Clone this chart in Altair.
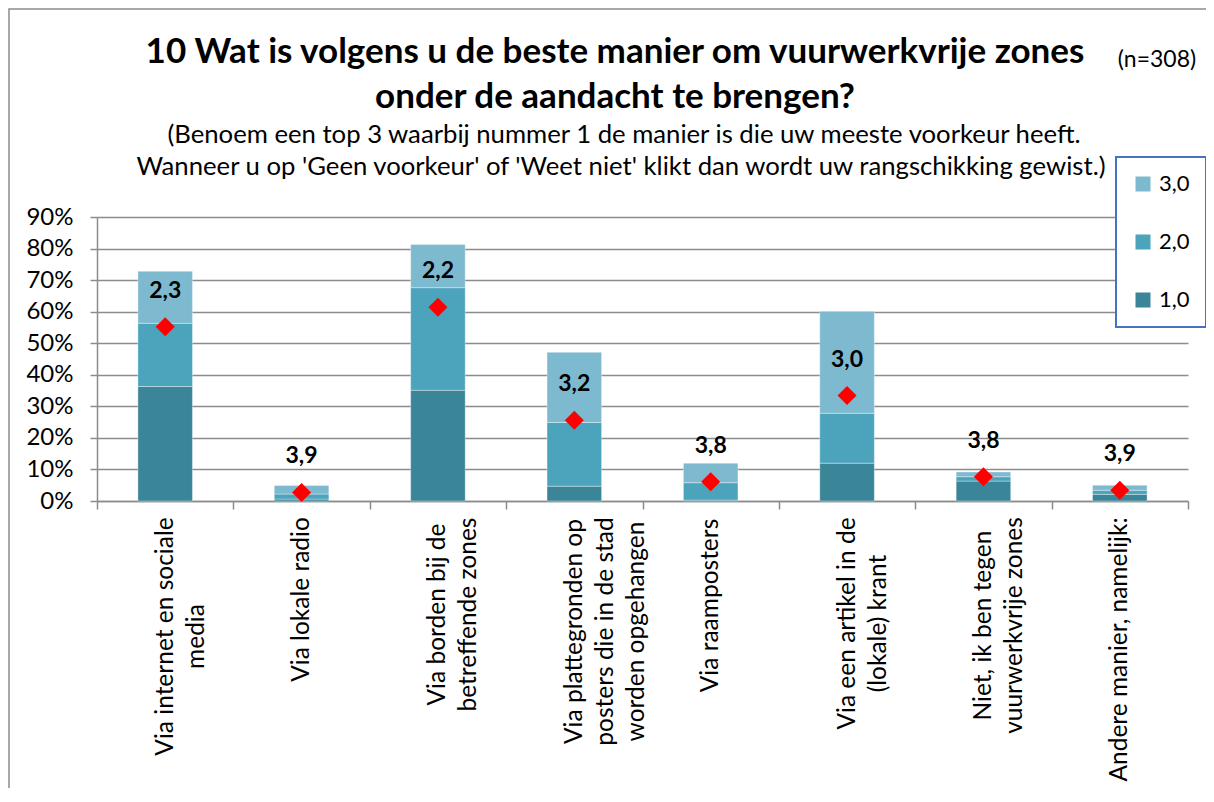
import altair as alt
import pandas as pd

# ---- data ----
categories = [
    "Via internet en sociale media",
    "Via lokale radio",
    "Via borden bij de betreffende zones",
    "Via plattegronden op posters die in de stad worden opgehangen",
    "Via raamposters",
    "Via een artikel in de (lokale) krant",
    "Niet, ik ben tegen vuurwerkvrije zones",
    "Andere manier, namelijk:",
]
rank1 = [36.3, 0.6, 35.1, 4.7, 0.3, 12.0, 6.3, 2.1]
rank2 = [20.0, 1.6, 32.5, 20.2, 5.5, 15.8, 1.4, 1.3]
rank3 = [16.5, 2.7, 13.7, 22.2, 6.2, 32.3, 1.5, 1.6]
average_pos = [55.2, 2.7, 61.4, 25.6, 6.1, 33.4, 7.7, 3.4]
average_lbl = ["2,3", "3,9", "2,2", "3,2", "3,8", "3,0", "3,8", "3,9"]
series = ["1,0", "2,0", "3,0"]
y_ticks = [0, 10, 20, 30, 40, 50, 60, 70, 80, 90]

title_lines = ["10 Wat is volgens u de beste manier om vuurwerkvrije zones", "onder de aandacht te brengen?"]
subtitle_lines = [
    "(Benoem een top 3 waarbij nummer 1 de manier is die uw meeste voorkeur heeft.",
    "Wanneer u op 'Geen voorkeur' of 'Weet niet' klikt dan wordt uw rangschikking gewist.)",
]
n_text = "(n=308)"

# ---- label wrapping (style) ----
label_lines = [
    ["Via internet en sociale", "media"],
    ["Via lokale radio"],
    ["Via borden bij de", "betreffende zones"],
    ["Via plattegronden op", "posters die in de stad", "worden opgehangen"],
    ["Via raamposters"],
    ["Via een artikel in de", "(lokale) krant"],
    ["Niet, ik ben tegen", "vuurwerkvrije zones"],
    ["Andere manier, namelijk:"],
]
label_len = [236, 162, 192, 226, 174, 210, 214, 262]

FONT = "Lato"
GRID = "#8C8C8C"

rows = []
for i, c in enumerate(categories):
    for s, vals in zip(series, [rank1, rank2, rank3]):
        rows.append({"cat": c, "rank": s, "order": series.index(s), "pct": vals[i] / 100})
df_bars = pd.DataFrame(rows)
df_avg = pd.DataFrame({"cat": categories, "pos": [v / 100 for v in average_pos], "lbl": average_lbl})

expr = "datum.value"
for c, lines in reversed(list(zip(categories, label_lines))):
    arr = "[" + ",".join("'" + l + "'" for l in lines) + "]"
    expr = f"datum.value == '{c}' ? {arr} : ({expr})"

pad_cond = {
    "condition": [{"test": f"datum.value == '{c}'", "value": 9 + L / 2} for c, L in zip(categories, label_len)],
    "value": 9,
}

x_axis = alt.Axis(
    title=None,
    labelAngle=270,
    labelAlign="center",
    labelBaseline="middle",
    labelFont=FONT,
    labelFontSize=24.5,
    labelLineHeight=31,
    labelColor="black",
    labelLimit=500,
    labelOverlap=False,
    labelExpr=expr,
    labelPadding=pad_cond,
    tickBand="extent",
    tickSize=8,
    tickColor=GRID,
    tickWidth=1.5,
    domainColor=GRID,
    domainWidth=1.5,
    grid=False,
)
y_axis = alt.Axis(
    title=None,
    values=[v / 100 for v in y_ticks],
    format=".0%",
    labelFont=FONT,
    labelFontSize=24,
    labelColor="black",
    labelPadding=17,
    labelFlush=False,
    labelOverlap=False,
    tickSize=7,
    tickColor=GRID,
    tickWidth=1.5,
    domainColor=GRID,
    domainWidth=1.5,
    grid=True,
    gridColor=GRID,
    gridWidth=1.5,
)

x_scale = alt.Scale(paddingInner=0, paddingOuter=0)
y_scale = alt.Scale(domain=[0, 0.9], nice=False)
X = alt.X("cat:N", sort=categories, scale=x_scale, axis=x_axis)

bars = alt.Chart(df_bars).mark_bar(
    width={"band": 0.4}, stroke="white", strokeOpacity=0.35, strokeWidth=1
).encode(
    x=X,
    y=alt.Y("pct:Q", stack="zero", scale=y_scale, axis=y_axis),
    color=alt.Color(
        "rank:N",
        scale=alt.Scale(domain=["3,0", "2,0", "1,0"], range=["#7EBACF", "#4BA3BC", "#3B8599"]),
        legend=alt.Legend(
            title=None,
            orient="none",
            legendX=1019,
            legendY=-60,
            direction="vertical",
            fillColor="white",
            strokeColor="#4472C4",
            padding=16,
            rowPadding=36,
            symbolType="square",
            symbolSize=225,
            symbolStrokeWidth=0,
            symbolOpacity=1,
            labelFont=FONT,
            labelFontSize=22,
            labelColor="black",
            labelOffset=5,
        ),
    ),
    order=alt.Order("order:Q", sort="ascending"),
)

diamonds = alt.Chart(df_avg).mark_point(
    shape="diamond", filled=True, color="#FF0000", size=360, opacity=1
).encode(x=X, y=alt.Y("pos:Q", scale=y_scale, axis=y_axis))

texts = alt.Chart(df_avg).mark_text(
    font=FONT, fontSize=23, fontWeight="bold", color="black", dy=-36, baseline="middle"
).encode(x=X, y=alt.Y("pos:Q", scale=y_scale, axis=y_axis), text="lbl:N")


def label(text, x, y, size, weight="normal"):
    return alt.Chart(pd.DataFrame({"t": [text]})).mark_text(
        font=FONT, fontSize=size, fontWeight=weight, color="black", align="center", baseline="middle"
    ).encode(x=alt.value(x), y=alt.value(y), text="t:N")


# positions relative to the plot area's top-left corner
notes = [
    label(title_lines[0], 518, -165, 35, "bold"),
    label(title_lines[1], 518, -120, 35, "bold"),
    label(subtitle_lines[0], 527, -82, 25.7),
    label(subtitle_lines[1], 524, -50, 25.7),
    label(n_text, 1060, -157, 23),
]

frame = alt.Chart(pd.DataFrame({"t": [0]})).mark_rect(
    fill="transparent", stroke=GRID, strokeWidth=1.5
).encode(x=alt.value(-88), x2=alt.value(1400), y=alt.value(-208), y2=alt.value(900))

chart = alt.layer(frame, bars, diamonds, texts, *notes).properties(
    width=1091,
    height=284,
    autosize=alt.AutoSizeParams(type="none"),
    padding={"left": 89, "top": 209, "right": 18, "bottom": 287},
).configure_view(stroke="transparent").configure_legend(strokeWidth=2)

chart.save("out.html", embed_options={"renderer": "svg", "actions": False})
